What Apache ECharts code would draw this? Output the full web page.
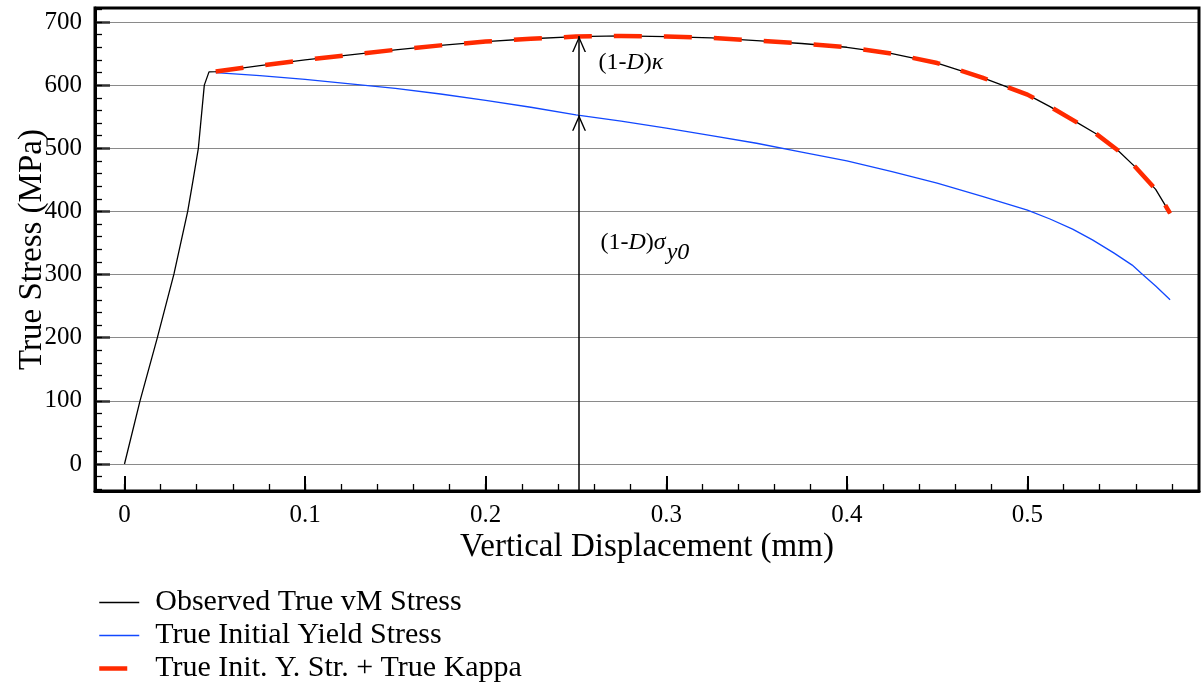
<!DOCTYPE html>
<html><head><meta charset="utf-8">
<script src="https://cdn.jsdelivr.net/npm/echarts@6/dist/echarts.min.js"></script>
<style>html,body{margin:0;padding:0;background:#fff}#c{width:1201px;height:688px}</style>
</head><body><div id="c"></div><script>
const seriesNames = ['Observed True vM Stress', 'True Initial Yield Stress', 'True Init. Y. Str. + True Kappa'];

const obsX = [0, 0.0086, 0.0182, 0.0274, 0.035, 0.038, 0.0409, 0.0442, 0.0468, 0.0505, 0.075, 0.1, 0.125, 0.15, 0.175, 0.2, 0.225, 0.25, 0.275, 0.3, 0.325, 0.35, 0.375, 0.4, 0.425, 0.45, 0.475, 0.5, 0.5125, 0.525, 0.538, 0.55, 0.5595, 0.571, 0.579];
const obsY = [0, 100, 200, 301, 400, 450, 500, 600, 621, 621.5, 631, 640, 648, 656, 663, 669, 673.5, 677, 678, 677, 675, 670.5, 666, 660, 650, 635, 612, 585, 566, 545, 523, 497, 471, 435, 397];

const yieldX = [0.0505, 0.075, 0.1, 0.125, 0.15, 0.175, 0.2, 0.225, 0.25, 0.275, 0.3, 0.325, 0.35, 0.375, 0.4, 0.425, 0.45, 0.475, 0.5, 0.5125, 0.525, 0.536, 0.548, 0.558, 0.563, 0.571, 0.579];
const yieldY = [620, 615, 609, 602, 595, 586, 576, 565, 553, 543, 532, 520, 508, 494, 480, 463, 445, 424, 402, 388, 372, 355, 334, 315, 302, 282, 260];

const kappaX = [0.0505, 0.075, 0.1, 0.125, 0.15, 0.175, 0.2, 0.225, 0.25, 0.275, 0.3, 0.325, 0.35, 0.375, 0.4, 0.425, 0.45, 0.475, 0.5, 0.5125, 0.525, 0.538, 0.55, 0.5595, 0.571, 0.579];
const kappaY = [621.5, 631, 640, 648, 656, 663, 669, 673.5, 677, 678, 677, 675, 670.5, 666, 660, 650, 635, 612, 585, 566, 545, 523, 497, 471, 435, 397];

const xMajor = [0, 0.1, 0.2, 0.3, 0.4, 0.5];
const xMinor = [0, 0.02, 0.04, 0.06, 0.08, 0.1, 0.12, 0.14, 0.16, 0.18, 0.2, 0.22, 0.24, 0.26, 0.28, 0.3, 0.32, 0.34, 0.36, 0.38, 0.4, 0.42, 0.44, 0.46, 0.48, 0.5, 0.52, 0.54, 0.56, 0.58];
const yMajor = [0, 100, 200, 300, 400, 500, 600, 700];
const yMinor = [-40, -20, 0, 20, 40, 60, 80, 100, 120, 140, 160, 180, 200, 220, 240, 260, 280, 300, 320, 340, 360, 380, 400, 420, 440, 460, 480, 500, 520, 540, 560, 580, 600, 620, 640, 660, 680, 700, 720];

const xRange = [-0.01633, 0.595];
const yRange = [-42.8, 722.2];

// annotation: arrow position and the two curve values it points at
const annoX = 0.2517;
const annoYield = 553;
const annoObs = 678;
const labelKappa = [0.2622, 635];
const labelSigma = [0.2633, 350];

const FONT = '"Liberation Serif", "Times New Roman", serif';
const zip = (xs, ys) => xs.map((x, i) => [x, ys[i]]);
const chevron = 'path://M0,16L7.5,0L15,16L13.4,16L7.5,3.4L1.6,16Z';

const chart = echarts.init(document.getElementById('c'), null, {renderer: 'canvas'});
chart.setOption({
  animation: false,
  backgroundColor: '#fff',
  grid: {left: 95, right: 2, top: 8, bottom: 197, containLabel: false, outerBoundsMode: 'none',
         show: true, borderColor: '#000', borderWidth: 3, z: 8, backgroundColor: 'transparent'},
  legend: {
    orient: 'vertical', left: 97, top: 586, padding: 0,
    itemWidth: 40, itemHeight: 14, itemGap: 0, selectedMode: false,
    itemStyle: {opacity: 0, borderWidth: 0},
    textStyle: {fontFamily: FONT, fontSize: 30, color: '#000', lineHeight: 33, padding: [0, 0, 0, 11]},
    data: [
      {name: seriesNames[0], lineStyle: {width: 1.3}},
      {name: seriesNames[1], lineStyle: {width: 1.3}},
      {name: seriesNames[2], lineStyle: {width: 4.5}}
    ]
  },
  xAxis: [
    {
      type: 'value', min: xRange[0], max: xRange[1], position: 'bottom', z: 7,
      axisLine: {show: true, onZero: false, lineStyle: {color: '#000', width: 3}},
      axisTick: {show: true, inside: true, length: 15, customValues: xMajor, lineStyle: {color: '#000', width: 2}},
      axisLabel: {customValues: xMajor, margin: 12, color: '#000', fontFamily: FONT, fontSize: 25},
      splitLine: {show: false},
      name: 'Vertical Displacement (mm)', nameLocation: 'middle', nameGap: 40, nameMoveOverlap: false,
      nameTextStyle: {fontFamily: FONT, fontSize: 33, color: '#000'}
    },
    {
      type: 'value', min: xRange[0], max: xRange[1], position: 'bottom', z: 7,
      axisLine: {show: false, onZero: false},
      axisTick: {show: true, inside: true, length: 7, customValues: xMinor, lineStyle: {color: '#000', width: 1.3}},
      axisLabel: {show: false}, splitLine: {show: false}
    }
  ],
  yAxis: [
    {
      type: 'value', min: yRange[0], max: yRange[1], position: 'left', z: 7,
      axisLine: {show: true, onZero: false, lineStyle: {color: '#000', width: 3}},
      axisTick: {show: true, inside: true, length: 15, customValues: yMajor, lineStyle: {color: '#333', width: 2.5}},
      axisLabel: {customValues: yMajor, margin: 13, color: '#000', fontFamily: FONT, fontSize: 25},
      splitLine: {show: false},
      name: 'True Stress (MPa)', nameLocation: 'middle', nameGap: 46, nameMoveOverlap: false,
      nameTextStyle: {fontFamily: FONT, fontSize: 33, color: '#000'}
    },
    {
      type: 'value', min: yRange[0], max: yRange[1], position: 'left', z: 7,
      axisLine: {show: false, onZero: false},
      axisTick: {show: true, inside: true, length: 7, customValues: yMinor, lineStyle: {color: '#000', width: 1.3}},
      axisLabel: {show: false}, splitLine: {show: false}
    }
  ],
  series: [
    {
      type: 'line', name: seriesNames[1], data: zip(yieldX, yieldY),
      symbol: 'none', showSymbol: false, z: 2,
      lineStyle: {color: '#1248ff', width: 1.3}, itemStyle: {color: '#1248ff'},
      markLine: {
        silent: true, z: 1, symbol: 'none', animation: false,
        label: {show: false},
        lineStyle: {color: '#8a8a8a', width: 1.2, type: 'solid'},
        data: yMajor.map(v => ({yAxis: v}))
      }
    },
    {
      type: 'line', name: seriesNames[0], data: zip(obsX, obsY),
      symbol: 'none', showSymbol: false, z: 3,
      lineStyle: {color: '#000', width: 1.3}, itemStyle: {color: '#000'},
      markLine: {
        silent: true, z: 6, animation: false,
        symbol: ['none', chevron], symbolSize: [14, 16], symbolOffset: [[0, 0], [0, 8]],
        label: {show: false},
        lineStyle: {color: '#000', width: 1.5, type: 'solid'},
        data: [
          [{coord: [annoX, yRange[0]]}, {coord: [annoX, annoYield]}],
          [{coord: [annoX, annoYield]}, {coord: [annoX, annoObs]}]
        ]
      },
      markPoint: {
        silent: true, symbol: 'rect', symbolSize: 1, itemStyle: {color: 'transparent'}, animation: false,
        label: {
          show: true, position: 'right', distance: 0, color: '#000', fontFamily: FONT, fontSize: 24,
          rich: {
            i: {fontStyle: 'italic', fontFamily: FONT, fontSize: 24, color: '#000'},
            s: {fontStyle: 'italic', fontFamily: FONT, fontSize: 24, color: '#000', padding: [20, 0, 0, 1]}
          }
        },
        data: [
          {coord: labelKappa, value: 0, label: {formatter: '(1-{i|D}){i|κ}'}},
          {coord: labelSigma, value: 0, label: {formatter: '(1-{i|D}){i|σ}{s|y0}'}}
        ]
      }
    },
    {
      type: 'line', name: seriesNames[2], data: zip(kappaX, kappaY),
      symbol: 'none', showSymbol: false, z: 4,
      lineStyle: {color: '#ff2a00', width: 4.5, type: [28, 22], cap: 'butt'}, itemStyle: {color: '#ff2a00'}
    }
  ]
});
</script></body></html>
